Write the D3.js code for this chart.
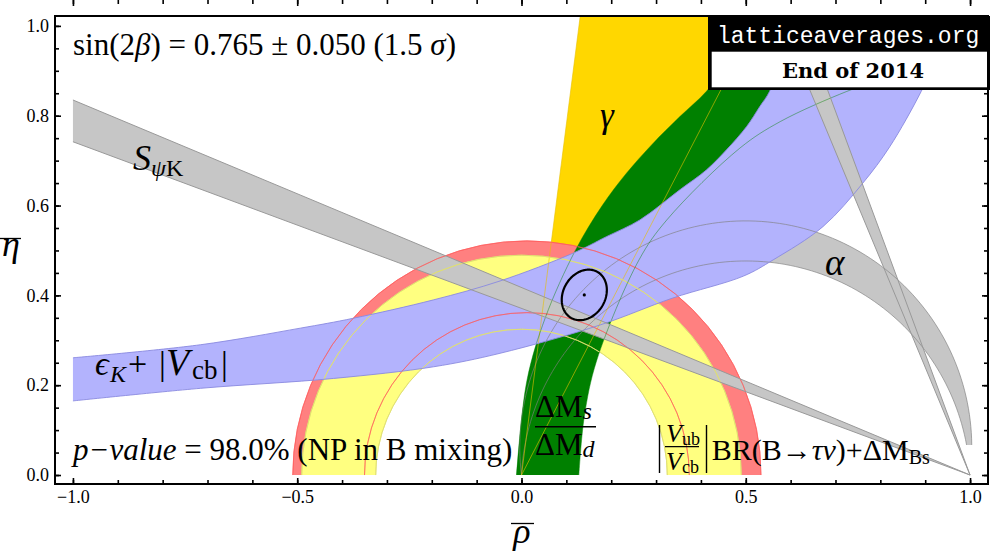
<!DOCTYPE html>
<html>
<head>
<meta charset="utf-8">
<script src="https://cdn.jsdelivr.net/npm/d3@7"></script>
<style>
  body { margin: 0; background: #fff; }
  text { font-family: "Liberation Serif", "DejaVu Serif", serif; }
</style>
</head>
<body>
<div id="chart"></div>
<script>
// tick values
var rhoMajor = [-1, -0.5, 0, 0.5, 1];
var rhoMinor = d3.range(-10, 11).map(function(i) { return i / 10; });
var etaMajor = [0, 0.2, 0.4, 0.6, 0.8, 1.0];
var etaMinor = d3.range(0, 21).map(function(i) { return i / 20; });

// eps_K + |Vcb| band edges (rho, eta)
var epsKUpper = [[-1, 0.261], [-0.716, 0.290], [-0.493, 0.327], [-0.375, 0.349], [-0.196, 0.390],
  [-0.048, 0.432], [0.115, 0.494], [0.190, 0.531], [0.264, 0.568], [0.353, 0.635], [0.412, 0.679],
  [0.457, 0.724], [0.502, 0.776], [0.531, 0.820], [0.553, 0.854], [0.58, 0.93], [0.60, 1.06]];
var epsKLower = [[-1, 0.165], [-0.716, 0.193], [-0.419, 0.215], [-0.196, 0.241], [-0.048, 0.271],
  [0.175, 0.334], [0.337, 0.394], [0.495, 0.443], [0.561, 0.479], [0.672, 0.553], [0.761, 0.650],
  [0.821, 0.731], [0.891, 0.854], [0.93, 0.94], [0.96, 1.06]];

// dMs/dMd band edges
var dmOuter = [[-0.011, 0], [0.012, 0.21], [0.053, 0.35], [0.120, 0.500], [0.180, 0.600],
  [0.234, 0.672], [0.290, 0.735], [0.353, 0.798], [0.412, 0.854], [0.47, 0.93], [0.53, 1.06]];
var dmInner = [[0.128, 0], [0.140, 0.13], [0.168, 0.256], [0.262, 0.479], [0.324, 0.568],
  [0.487, 0.728], [0.577, 0.787], [0.725, 0.854], [0.80, 0.88]];

// gamma wedge edges (degrees from the rho axis)
var gammaEdges = [62.6, 82.7];

// S_psiK: eta = s * (1 - rho)
var sPsiKFlat = [0.371, 0.4175];
var sPsiKSteep = [2.40, 2.70];

// |Vub/Vcb| ring and BR(tau nu)+dM_Bs ring
var vubRing = { center: 0, radii: [0.325, 0.49] };
var tauRing = { center: 0.012, radii: [0.362, 0.522] };

// alpha: circles through (0,0) and (1,0), centre (0.5, cy)
var alphaCy = [0.062, -0.024];
var alphaTipEta = 0.067;
var alphaStartRho = 0.30;

// fit result
var fitCenter = [0.140, 0.401];
var fitAxes = [0.059, 0.047];
var fitAngle = 60;

var W = 1000, H = 555;
var x = d3.scaleLinear().domain([-1.04, 1.04]).range([55, 988]);
var y = d3.scaleLinear().domain([-0.02, 1.022]).range([484, 16]);

var svg = d3.select("#chart").append("svg")
  .attr("width", W).attr("height", H);

svg.append("clipPath").attr("id", "plot")
  .append("rect")
    .attr("x", x(-1.04)).attr("y", y(1.022))
    .attr("width", x(1.04) - x(-1.04)).attr("height", y(-0.02) - y(1.022));

var plot = svg.append("g").attr("clip-path", "url(#plot)");

var curve = d3.line().x(function(d) { return x(d[0]); }).y(function(d) { return y(d[1]); })
  .curve(d3.curveCatmullRom);
var straight = d3.line().x(function(d) { return x(d[0]); }).y(function(d) { return y(d[1]); });

function band(a, b) {
  return curve(a) + curve(b.slice().reverse()).replace(/^M/, "L") + "Z";
}

// circle helpers for alpha
function alphaR(cy) { return Math.sqrt(0.25 + cy * cy); }
function alphaArc(cy, t0, t1) {
  var r = alphaR(cy);
  return d3.range(0, 121).map(function(i) {
    var t = t0 + (t1 - t0) * i / 120;
    return [0.5 + r * Math.cos(t), cy + r * Math.sin(t)];
  });
}
function tStartAt(cy, rho) { return Math.acos((rho - 0.5) / alphaR(cy)); }
function tTip(cy) { return Math.asin((alphaTipEta - cy) / alphaR(cy)); }
function tOrigin(cy) { return Math.atan2(-cy, -0.5) + (cy > 0 ? 2 * Math.PI : 0); }

var gray = "#c6c6c6";

// alpha fill
var aOut = alphaArc(alphaCy[0], tStartAt(alphaCy[0], alphaStartRho), tTip(alphaCy[0]));
var aIn = alphaArc(alphaCy[1], tStartAt(alphaCy[1], alphaStartRho), tTip(alphaCy[1]));
plot.append("path").attr("d", straight(aOut.concat(aIn.slice().reverse())) + "Z")
  .attr("fill", gray);

// gamma wedge
var gammaPts = [[0, 0]].concat(gammaEdges.map(function(a) {
  var e = 1.1; return [e / Math.tan(a * Math.PI / 180), e];
}));
plot.append("path").attr("d", straight(gammaPts) + "Z").attr("fill", "#ffd700");

// rings (upper half)
function ring(r0, r1) {
  return d3.arc().innerRadius(x(r0) - x(0)).outerRadius(x(r1) - x(0))
    .startAngle(-Math.PI / 2).endAngle(Math.PI / 2)();
}
plot.append("path").attr("d", ring(tauRing.radii[0], tauRing.radii[1]))
  .attr("transform", "translate(" + x(tauRing.center) + "," + y(0) + ")")
  .attr("fill", "#ff8080");
plot.append("path").attr("d", ring(vubRing.radii[0], vubRing.radii[1]))
  .attr("transform", "translate(" + x(vubRing.center) + "," + y(0) + ")")
  .attr("fill", "#ffff80");

// dMs/dMd
plot.append("path").attr("d", band(dmOuter, dmInner)).attr("fill", "#008000");

// eps_K
plot.append("path").attr("d", band(epsKUpper, epsKLower)).attr("fill", "#b3b3fd");

// S_psiK bands
function wedgeFromApex(s0, s1, rhoEnd) {
  return straight([[1, 0], [rhoEnd(s0), s0 * (1 - rhoEnd(s0))], [rhoEnd(s1), s1 * (1 - rhoEnd(s1))]]) + "Z";
}
plot.append("path").attr("d", wedgeFromApex(sPsiKFlat[0], sPsiKFlat[1], function() { return -1; }))
  .attr("fill", gray);
plot.append("path").attr("d", wedgeFromApex(sPsiKSteep[0], sPsiKSteep[1], function(s) { return 1 - 1.1 / s; }))
  .attr("fill", gray);

// boundary lines on top
var edges = plot.append("g").attr("fill", "none").attr("stroke-width", 1);
function ringEdge(c, r, col, op) {
  edges.append("path")
    .attr("d", d3.arc().innerRadius(x(r) - x(0)).outerRadius(x(r) - x(0))
      .startAngle(-Math.PI / 2).endAngle(Math.PI / 2)())
    .attr("transform", "translate(" + x(c) + "," + y(0) + ")")
    .attr("stroke", col).attr("stroke-opacity", op);
}
alphaCy.forEach(function(cy) {
  edges.append("path").attr("d", straight(alphaArc(cy, tOrigin(cy), tTip(cy))))
    .attr("stroke", "#808080").attr("stroke-opacity", 0.65);
});
gammaPts.slice(1).forEach(function(p) {
  edges.append("path").attr("d", straight([[0, 0], p]))
    .attr("stroke", "#e8c000").attr("stroke-opacity", 0.6);
});
tauRing.radii.forEach(function(r) { ringEdge(tauRing.center, r, "#ff5a5a", 0.6); });
vubRing.radii.forEach(function(r) { ringEdge(vubRing.center, r, "#e0e070", 0.8); });
[dmOuter, dmInner].forEach(function(e) {
  edges.append("path").attr("d", curve(e)).attr("stroke", "#008000").attr("stroke-opacity", 0.45);
});
[epsKUpper, epsKLower].forEach(function(e) {
  edges.append("path").attr("d", curve(e)).attr("stroke", "#8a8ae0").attr("stroke-opacity", 0.9);
});
sPsiKFlat.forEach(function(s) {
  edges.append("path").attr("d", straight([[1, 0], [-1, 2 * s]])).attr("stroke", "#999");
});
sPsiKSteep.forEach(function(s) {
  edges.append("path").attr("d", straight([[1, 0], [1 - 1.1 / s, 1.1]])).attr("stroke", "#999");
});

// fit ellipse
var ang = fitAngle * Math.PI / 180;
var ell = d3.range(0, 181).map(function(i) {
  var t = 2 * Math.PI * i / 180;
  var u = fitAxes[0] * Math.cos(t), v = fitAxes[1] * Math.sin(t);
  return [fitCenter[0] + u * Math.cos(ang) - v * Math.sin(ang), fitCenter[1] + u * Math.sin(ang) + v * Math.cos(ang)];
});
plot.append("path").attr("d", straight(ell) + "Z")
  .attr("fill", "none").attr("stroke", "#000").attr("stroke-width", 2.2);
plot.append("circle").attr("cx", x(fitCenter[0])).attr("cy", y(fitCenter[1])).attr("r", 1.6).attr("fill", "#000");

// frame and ticks
var fmt = d3.format(".1f");
function addAxis(gen, tr, vals, size, labels) {
  var g = svg.append("g").attr("transform", tr)
    .call(gen.tickValues(vals).tickSize(size).tickPadding(labels ? 6 : 0)
      .tickFormat(labels ? fmt : ""));
  g.select(".domain").remove();
  g.selectAll("line").attr("stroke", "#000").attr("stroke-width", 1.6);
  g.selectAll("text").style("font-size", "18px").style("font-family", "Liberation Serif, serif").attr("fill", "#000");
  return g;
}
var bottom = "translate(0," + y(-0.02) + ")", top = "translate(0," + y(1.022) + ")";
var left = "translate(" + x(-1.04) + ",0)", right = "translate(" + x(1.04) + ",0)";
addAxis(d3.axisBottom(x), bottom, rhoMinor, -4, false);
addAxis(d3.axisBottom(x), bottom, rhoMajor, -6, true);
addAxis(d3.axisTop(x), top, rhoMinor, -4, false);
addAxis(d3.axisTop(x), top, rhoMajor, -6, false);
addAxis(d3.axisLeft(y), left, etaMinor, -4, false);
addAxis(d3.axisLeft(y), left, etaMajor, -6, true);
addAxis(d3.axisRight(y), right, etaMinor, -4, false);
addAxis(d3.axisRight(y), right, etaMajor, -6, false);

svg.append("rect")
  .attr("x", x(-1.04)).attr("y", y(1.022))
  .attr("width", x(1.04) - x(-1.04)).attr("height", y(-0.02) - y(1.022))
  .attr("fill", "none").attr("stroke", "#000").attr("stroke-width", 2);

// axis titles
function over(t, cx, cy) {
  svg.append("text").attr("x", cx).attr("y", cy).attr("text-anchor", "middle")
    .style("font-size", "36px").style("font-style", "italic").text(t);
}
over("η", 11, 256);
svg.append("line").attr("x1", 0).attr("x2", 21).attr("y1", 238.5).attr("y2", 238.5).attr("stroke", "#000").attr("stroke-width", 1.3);
over("ρ", 522, 543);
svg.append("line").attr("x1", 511).attr("x2", 534).attr("y1", 523.5).attr("y2", 523.5).attr("stroke", "#000").attr("stroke-width", 1.3);

// labels
function rich(xp, yp, size, parts) {
  var t = svg.append("text").attr("x", xp).attr("y", yp).style("font-size", size + "px").attr("fill", "#000");
  parts.forEach(function(p) {
    var s = t.append("tspan").text(p.t);
    if (p.i) s.style("font-style", "italic");
    if (p.s) s.style("font-size", p.s + "px");
    if (p.dy) s.attr("dy", p.dy);
    if (p.x) s.attr("x", p.x);
  });
  return t;
}
rich(73, 55, 31, [{t: "sin(2"}, {t: "β", i: 1}, {t: ") = 0.765 ± 0.050 (1.5 "}, {t: "σ", i: 1}, {t: ")"}]);
rich(133, 170, 36, [{t: "S", i: 1}, {t: "ψ", i: 1, s: 24, dy: 6}, {t: "K", s: 24}]);
rich(600, 127, 35, [{t: "γ", i: 1}]);
rich(825, 275, 37, [{t: "α", i: 1}]);
rich(95, 375, 34, [{t: "ϵ", i: 1}, {t: "K", i: 1, s: 24, dy: 7, x: 110}, {t: "+", dy: -7, x: 128},
  {t: "|", x: 159}, {t: "V", i: 1, s: 38, x: 166}, {t: "cb", s: 27, dy: 4, x: 192}, {t: "|", dy: -4, x: 221}]);
rich(73, 460, 31, [{t: "p−value", i: 1}, {t: " =  98.0% (NP in B mixing)"}]);

rich(535, 416.7, 31, [{t: "ΔM"}, {t: "s", i: 1, s: 24, dy: 2}]);
svg.append("line").attr("x1", 535).attr("x2", 596).attr("y1", 426.7).attr("y2", 426.7).attr("stroke", "#000").attr("stroke-width", 1.5);
rich(535, 455, 31, [{t: "ΔM"}, {t: "d", i: 1, s: 24, dy: 2}]);

svg.append("line").attr("x1", 659.5).attr("x2", 659.5).attr("y1", 425).attr("y2", 473).attr("stroke", "#000").attr("stroke-width", 1.4);
svg.append("line").attr("x1", 706.5).attr("x2", 706.5).attr("y1", 425).attr("y2", 473).attr("stroke", "#000").attr("stroke-width", 1.4);
rich(666, 441.7, 26, [{t: "V", i: 1}, {t: "ub", s: 18, dy: 3}]);
svg.append("line").attr("x1", 665).attr("x2", 699).attr("y1", 446.7).attr("y2", 446.7).attr("stroke", "#000").attr("stroke-width", 1.2);
rich(666, 469.5, 26, [{t: "V", i: 1}, {t: "cb", s: 18, dy: 3}]);
rich(711.7, 460, 30, [{t: "BR(B→"}, {t: "τν", i: 1}, {t: ")+ΔM"}, {t: "Bs", s: 20, dy: 4}]);

// stamp box
svg.append("rect").attr("x", 708).attr("y", 16).attr("width", 282).attr("height", 74).attr("fill", "#000");
svg.append("rect").attr("x", 711.7).attr("y", 51.7).attr("width", 275.3).attr("height", 35.6).attr("fill", "#fff");
svg.append("text").attr("x", 717).attr("y", 43).attr("fill", "#fff")
  .style("font-family", "Liberation Mono, monospace").style("font-size", "23px").text("latticeaverages.org");
svg.append("text").attr("x", 853).attr("y", 78).attr("text-anchor", "middle").attr("fill", "#000")
  .style("font-family", "DejaVu Serif, serif").style("font-weight", "bold").style("font-size", "21px").text("End of 2014");
</script>
</body>
</html>
